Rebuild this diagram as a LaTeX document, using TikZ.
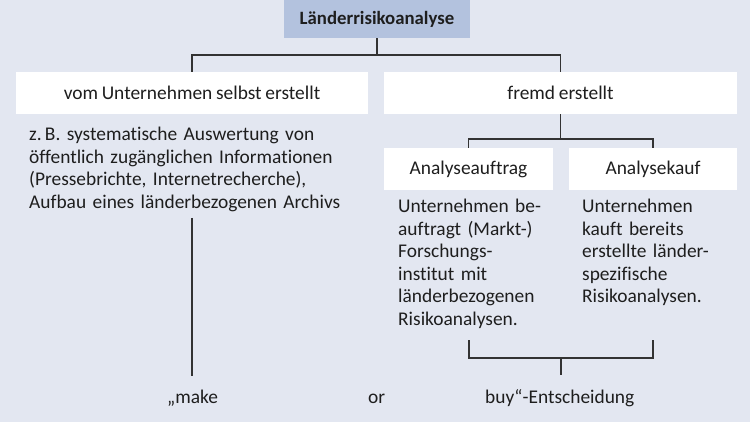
\documentclass[tikz,border=0pt]{standalone}
\usepackage{fontspec}
\setmainfont{Carlito}[Ligatures=NoCommon,WordSpace=0.85]
\definecolor{bgc}{HTML}{E3E7F1}
\definecolor{topc}{HTML}{B3C2DE}
\definecolor{linec}{HTML}{333333}
\definecolor{txtc}{HTML}{1E1E1E}
\begin{document}
\begin{tikzpicture}[x=1pt,y=-1pt,
  every node/.style={text=txtc,font=\fontsize{19.4}{22.5}\selectfont},
  box/.style={fill=white,inner sep=0,minimum height=42,anchor=center},
  desc/.style={inner sep=0,anchor=base west,align=left},
  conn/.style={draw=linec,line width=1.5pt}]
\fill[bgc] (0,0) rectangle (750,422);
\useasboundingbox (0,0) rectangle (750,422);
\node[fill=topc,inner sep=0,minimum width=186,minimum height=38,font=\fontsize{18.8}{22.5}\selectfont\bfseries] (root) at (377,19) {Länderrisikoanalyse};
\node[box,minimum width=352] (selbst) at (192,93) {vom Unternehmen selbst erstellt};
\node[box,minimum width=353] (fremd) at (560.5,93) {fremd erstellt};
\node[box,minimum width=169] (auftrag) at (468.5,169) {Analyseauftrag};
\node[box,minimum width=168] (kauf) at (653,169) {Analysekauf};
\node[desc,text width=340] (lefttext) at (29,141) {z.\,B. systematische Auswertung von\\öffentlich zugänglichen Informationen\\(Pressebrichte, Internetrecherche),\\Aufbau eines länderbezogenen Archivs};
\node[desc,text width=165] (auftext) at (398,213) {Unternehmen be-\\auftragt (Markt-)\\Forschungs-\\institut mit\\länderbezogenen\\Risikoanalysen.};
\node[desc,text width=150] (kauftext) at (582,213) {Unternehmen\\kauft bereits\\erstellte länder-\\spezifische\\Risikoanalysen.};
\node[inner sep=0,anchor=base west] (make) at (167,403) {„make};
\node[inner sep=0,anchor=base west] (or) at (368,403) {or};
\node[inner sep=0,anchor=base west] (buy) at (485,403) {buy“-Entscheidung};
% connectors
\coordinate (h1) at (377,55);
\draw[conn] (root.south) -- (h1);
\draw[conn] (selbst.north) |- (h1) -| (fremd.north);
\coordinate (h2) at (560.5,139);
\draw[conn] (fremd.south) -- (h2);
\draw[conn] (auftrag.north) |- (h2) -| (kauf.north);
\coordinate (m1) at (192,218);
\coordinate (m2) at (192,376);
\draw[conn] (m1) -- (m2);
\coordinate (b1) at (469,340);
\coordinate (b2) at (653,340);
\coordinate (bc) at (561,358);
\coordinate (bm) at (561,375);
\draw[conn] (b1) |- (bc) -| (b2);
\draw[conn] (bc) -- (bm);
\end{tikzpicture}
\end{document}
